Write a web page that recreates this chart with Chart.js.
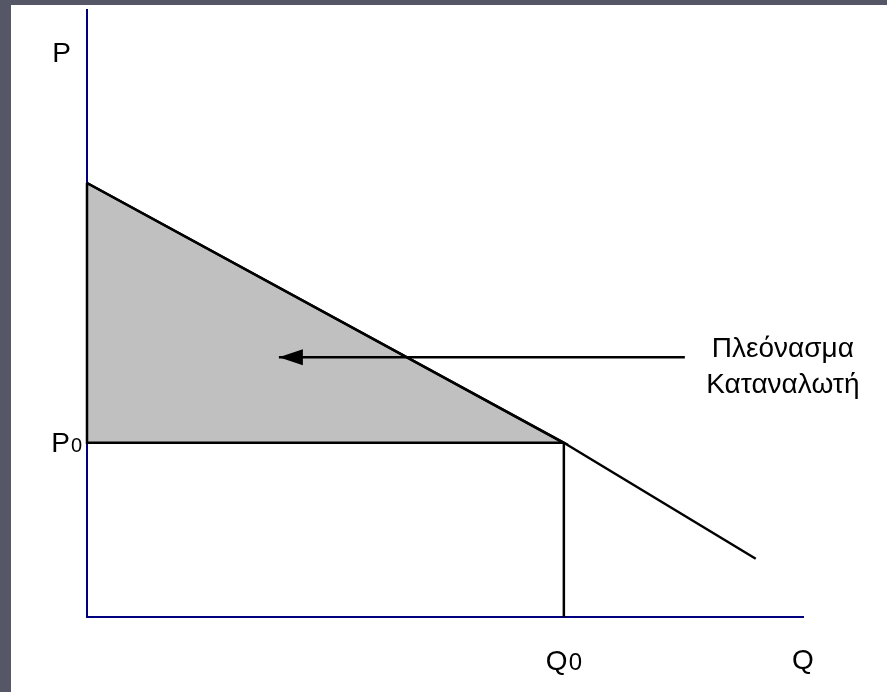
<!DOCTYPE html>
<html>
<head>
<meta charset="utf-8">
<script src="https://cdn.jsdelivr.net/npm/chart.js@4"></script>
<style>
  html, body { margin: 0; padding: 0; }
  body { width: 887px; height: 692px; background: #555767; position: relative; overflow: hidden; }
  #card { position: absolute; left: 11px; top: 5px; right: 0; bottom: 0; background: #fff; }
  #surplusChart { position: absolute; left: 0; top: 0; }
</style>
</head>
<body>
<div id="card"></div>
<canvas id="surplusChart" width="887" height="692"></canvas>
<script>
// axis ranges (Q across, P up)
const qMax = 100;
const pMax = 100;

// demand curve
const demandQ = [0, 66.6, 93.4];
const demandP = [71.5, 28.7, 9.6];

// equilibrium point
const q0 = 66.6;
const p0 = 28.7;

// arrow pointing into the surplus area
const arrowQ = [83.5, 26.8];
const arrowP = [42.8, 42.8];

// texts
const axisLabels = ["P", "Q"];
const pointLabels = ["P", "Q"]; // drawn with subscript 0
const surplusLabel = ["Πλεόνασμα", "Καταναλωτή"];

const toPoints = (xs, ys) => xs.map((x, i) => ({ x: x, y: ys[i] }));

const lineStyle = {
  showLine: true,
  borderColor: "#000",
  borderWidth: 2.5,
  pointRadius: 0,
  tension: 0,
  clip: false,
  order: 1
};

// arrow head + text labels
const labelsPlugin = {
  id: "labels",
  afterDatasetsDraw(chart) {
    const c = chart.ctx;
    const xs = chart.scales.x, ys = chart.scales.y;
    const font = "'Liberation Sans', Arial, sans-serif";

    // arrow head at the end of the arrow line
    const tx = xs.getPixelForValue(arrowQ[1]);
    const ty = ys.getPixelForValue(arrowP[1]);
    c.save();
    c.fillStyle = "#000";
    c.beginPath();
    c.moveTo(tx, ty);
    c.lineTo(tx + 24, ty - 8);
    c.lineTo(tx + 24, ty + 8);
    c.closePath();
    c.fill();

    c.textBaseline = "alphabetic";

    // axis names
    c.font = "28px " + font;
    c.textAlign = "right";
    c.fillText(axisLabels[0], xs.left - 16, ys.top + 52);
    c.textAlign = "left";
    c.fillText(axisLabels[1], xs.right - 11, ys.bottom + 52);

    // P0 / Q0 with a smaller zero
    const withZero = (txt, zeroSize, x, y, alignRight) => {
      c.font = "28px " + font;
      const w1 = c.measureText(txt).width;
      c.font = zeroSize + "px " + font;
      const w2 = c.measureText("0").width;
      const start = alignRight ? x - w1 - w2 : x;
      c.textAlign = "left";
      c.font = "28px " + font;
      c.fillText(txt, start, y);
      c.font = zeroSize + "px " + font;
      c.fillText("0", start + w1 + 1, y);
    };
    withZero(pointLabels[0], 20, xs.left - 6, ys.getPixelForValue(p0) + 9, true);
    withZero(pointLabels[1], 24, xs.getPixelForValue(q0) - 18, ys.bottom + 53, false);

    // surplus text
    c.font = "28px " + font;
    c.textAlign = "center";
    const lx = xs.getPixelForValue(arrowQ[0]) + 98;
    const ly = ys.getPixelForValue(arrowP[0]);
    c.fillText(surplusLabel[0], lx, ly);
    c.fillText(surplusLabel[1], lx, ly + 36);
    c.restore();
  }
};

new Chart(document.getElementById("surplusChart"), {
  type: "scatter",
  data: {
    datasets: [
      {
        ...lineStyle,
        label: "surplus",
        data: toPoints([0, q0, 0, 0], [demandP[0], p0, p0, demandP[0]]),
        fill: "shape",
        backgroundColor: "#c0c0c0",
        order: 5
      },
      { ...lineStyle, label: "demand", data: toPoints(demandQ, demandP) },
      { ...lineStyle, label: "q0", data: toPoints([q0, q0], [p0, 0]) },
      { ...lineStyle, label: "arrow", data: toPoints(arrowQ, arrowP) }
    ]
  },
  options: {
    responsive: false,
    animation: false,
    devicePixelRatio: 1,
    layout: { padding: { left: 87, right: 84, top: 10, bottom: 75 } },
    plugins: { legend: { display: false }, tooltip: { enabled: false } },
    scales: {
      x: {
        type: "linear", min: 0, max: qMax,
        grid: { display: false, drawTicks: false },
        ticks: { display: false },
        border: { display: true, color: "#00007f", width: 2 }
      },
      y: {
        type: "linear", min: 0, max: pMax,
        grid: { display: false, drawTicks: false },
        ticks: { display: false },
        border: { display: true, color: "#00007f", width: 2 }
      }
    }
  },
  plugins: [labelsPlugin]
});
</script>
</body>
</html>
